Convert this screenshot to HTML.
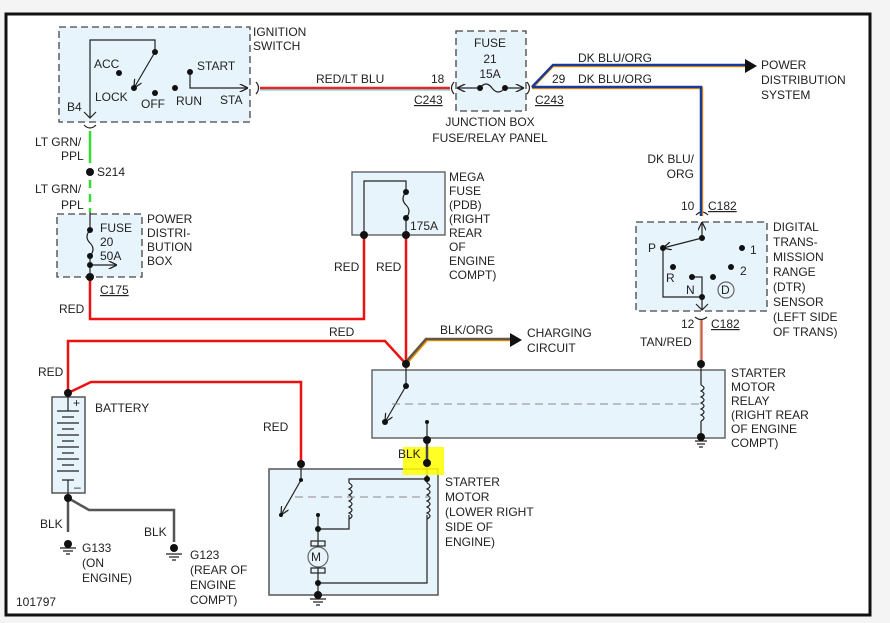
<!DOCTYPE html>
<html><head><meta charset="utf-8"><style>
html,body{margin:0;padding:0;background:#fff}
svg{display:block}
text{font-family:"Liberation Sans",sans-serif;font-size:12px;fill:#222}
</style></head><body>
<svg width="890" height="623" viewBox="0 0 890 623" xmlns="http://www.w3.org/2000/svg">
<defs>
<marker id="a" viewBox="0 0 10 10" refX="10" refY="5" markerWidth="7" markerHeight="7" orient="auto"><path d="M0,0 L10,5 L0,10" fill="none" stroke="#222" stroke-width="1.5"/></marker>
<marker id="af" viewBox="0 0 10 10" refX="9" refY="5" markerWidth="6" markerHeight="6" orient="auto"><path d="M0,0 L10,5 L0,10 z" fill="#222"/></marker>
</defs>
<rect x="0" y="0" width="890" height="623" fill="#f4f4f4"/>
<rect x="6" y="14" width="864" height="601" fill="#fff" stroke="#111" stroke-width="3"/>
<g fill="#e8f4fc" stroke="#444" stroke-width="1.3">
<rect x="59" y="27" width="191" height="95" stroke-dasharray="7,4"/>
<rect x="456" y="31" width="70" height="80" stroke-dasharray="7,4"/>
<rect x="57" y="214" width="85" height="63" stroke-dasharray="7,4"/>
<rect x="636" y="222" width="131" height="89" stroke-dasharray="7,4"/>
<rect x="352" y="172" width="93" height="63" stroke="#555"/>
<rect x="372" y="370" width="353" height="68" stroke="#666" stroke-width="1.5"/>
<rect x="52" y="397" width="33" height="96" stroke="#555" stroke-width="1.5"/>
<rect x="269" y="469" width="169" height="126" stroke="#555" stroke-width="1.5"/>
</g>
<g stroke="#222" stroke-width="1.2" fill="none">
<!-- ignition -->
<path d="M90,118 V40 H155 V52"/>
<path d="M155,52 L134,88" marker-end="url(#a)"/>
<path d="M190,72 V88 H248" marker-end="url(#a)"/>
<path d="M84,112 L90,118 L96,112"/>
<path d="M84,125 Q90,131 96,125"/>
<path d="M256,82 Q261,88 256,94"/>
<path d="M454,82 Q449,88 454,94"/>
<path d="M527,82 Q532,88 527,94"/>
<!-- jb fuse -->
<path d="M480,88 H457" marker-end="url(#a)"/><path d="M505,88 H524" marker-end="url(#a)"/>
<path d="M480,88 Q486,80 492,88 Q498,96 505,88"/>
<!-- pdb fuse -->
<path d="M90,212 V230 M90,256 V277"/>
<path d="M90,230 Q84,237 90,243 Q96,249 90,256"/>
<path d="M90,265 H117" marker-end="url(#a)"/>
<!-- mega fuse -->
<path d="M364,235 V181 H406 V192 M406,218 V235"/>
<path d="M406,192 Q400,199 406,205 Q412,211 406,218"/>
<!-- DTR -->
<path d="M702,238 V222" marker-end="url(#a)"/>
<path d="M696,215 Q702,209 708,215"/>
<path d="M702,238 L663,248" marker-end="url(#a)"/>
<path d="M663,248 V297 H702 M692,277 H702 V310"/>
<path d="M696,304 L702,310 L708,304"/>
<path d="M695,317 Q701,322 707,317"/>
<circle cx="726" cy="290" r="8" stroke="#666"/>
<!-- relay -->
<path d="M406,364 V386"/>
<path d="M406,386 L385,422" marker-end="url(#a)"/>
<path d="M427,422 V463"/>
<path d="M701,364 V385 M701,421 V437"/>
<path d="M701,385 q6,3 0,6 q6,3 0,6 q6,3 0,6 q6,3 0,6 q6,3 0,6 q6,3 0,6"/>
<path d="M695,441 H707 M697,444 H705 M699,447 H703"/>
<!-- starter motor -->
<path d="M301,464 V480"/>
<path d="M301,480 L281,515" marker-end="url(#a)"/>
<path d="M349,515 V529 H318 V515 M427,463 V483 M349,483 V479 H427 M427,515 V583 H318 V567 M318,547 V529"/>
<path d="M349,483 q6,3 0,6 q6,3 0,6 q6,3 0,6 q6,3 0,6 q6,3 0,6 q6,3 0,6"/>
<path d="M427,483 q6,3 0,6 q6,3 0,6 q6,3 0,6 q6,3 0,6 q6,3 0,6 q6,3 0,6"/>
<circle cx="318" cy="557" r="10" stroke="#666"/>
<rect x="311" y="541" width="14" height="5"/><rect x="311" y="568" width="14" height="5"/>
<path d="M318,583 V595 M310,599 H326 M313,602 H323 M316,605 H320"/>
<!-- battery -->
<path d="M68,393 V411 M68,480 V498"/>
<path d="M57,411 H79 M62,417 H74 M57,423 H79 M62,429 H74 M57,435 H79 M62,441 H74 M57,447 H79 M62,453 H74 M57,459 H79 M62,465 H74 M57,471 H79 M62,480 H74"/>
<path d="M60,548 H76 M63,551 H73 M66,554 H70 M166,554 H182 M169,557 H179 M172,560 H176"/>
</g>
<!-- dashed separators -->
<g stroke="#888" stroke-width="1" stroke-dasharray="8,5">
<path d="M392,404 H700"/><path d="M295,497 H430"/>
</g>
<!-- wires -->
<g fill="none" stroke-width="2.5">
<path d="M260,88 H450" stroke="#e22"/><path d="M260,90 H450" stroke="#4cc" stroke-width="1"/>
<path d="M90,131 V163" stroke="#3d3"/>
<path d="M90,180 V212" stroke="#3d3" stroke-dasharray="8,6"/>
<path d="M532,88 L553,66 H745" stroke="#f90"/><path d="M532,87 L553,65 H745" stroke="#1a3a9a"/>
<path d="M532,88 H702 V216" stroke="#f90"/><path d="M532,87 H701 V216" stroke="#1a3a9a"/>
<path d="M90,277 V319 H364 V235 M406,235 V364" stroke="#e11"/>
<path d="M68,393 V341 H385 L406,364" stroke="#e11"/>
<path d="M68,393 L91,382 H301 V464" stroke="#e11"/>
<path d="M701,320 V364" stroke="#b9a07a"/><path d="M702,320 V364" stroke="#e11" stroke-width="1"/>
<path d="M406,364 L427,340 H512" stroke="#e90"/><path d="M405,363 L426,339 H512" stroke="#654"/>
<path d="M68,498 V532 M68,498 L89,510 H174 V542" stroke="#555"/>
</g>
<path d="M745,59 L757,66 L745,73 z M510,333 L522,340 L510,347 z" fill="#111"/>
<rect x="403" y="447" width="41" height="28" fill="#ff0" opacity="0.85"/>
<path d="M427,440 V463" stroke="#444" stroke-width="2.5"/>
<!-- dots -->
<g fill="#111">
<circle cx="155" cy="52" r="3"/><circle cx="119" cy="73" r="3"/><circle cx="134" cy="88" r="3"/><circle cx="155" cy="93" r="3"/><circle cx="175" cy="88" r="3"/><circle cx="190" cy="72" r="3"/>
<circle cx="480" cy="88" r="3"/><circle cx="505" cy="88" r="3"/>
<circle cx="90" cy="172" r="4"/><circle cx="90" cy="230" r="3"/><circle cx="90" cy="256" r="3"/><circle cx="90" cy="265" r="3"/><circle cx="90" cy="277" r="4"/>
<circle cx="406" cy="192" r="3"/><circle cx="406" cy="218" r="3"/><circle cx="364" cy="235" r="4"/><circle cx="406" cy="235" r="4"/>
<circle cx="702" cy="238" r="3"/><circle cx="663" cy="248" r="3"/><circle cx="742" cy="248" r="3"/><circle cx="673" cy="267" r="3"/><circle cx="731" cy="267" r="3"/><circle cx="692" cy="277" r="3"/><circle cx="713" cy="277" r="3"/><circle cx="702" cy="297" r="3"/>
<circle cx="701" cy="364" r="4"/><circle cx="406" cy="364" r="4"/><circle cx="406" cy="386" r="3"/><circle cx="385" cy="422" r="3"/><circle cx="427" cy="422" r="2"/><circle cx="427" cy="440" r="4"/><circle cx="427" cy="463" r="4"/><circle cx="701" cy="437" r="4"/>
<circle cx="68" cy="393" r="4"/><circle cx="68" cy="498" r="4"/><circle cx="68" cy="544" r="4"/><circle cx="174" cy="548" r="4"/>
<circle cx="301" cy="464" r="4"/><circle cx="301" cy="480" r="2"/><circle cx="281" cy="515" r="2"/><circle cx="427" cy="479" r="3"/><circle cx="318" cy="515" r="2"/><circle cx="318" cy="529" r="3"/><circle cx="318" cy="583" r="3"/><circle cx="318" cy="595" r="4"/>
</g>
<!-- labels -->
<text x="94" y="68">ACC</text><text x="197" y="70">START</text><text x="95" y="101">LOCK</text><text x="141" y="108">OFF</text><text x="176" y="105">RUN</text><text x="220" y="104">STA</text><text x="67" y="111">B4</text>
<text x="253" y="36">IGNITION</text><text x="253" y="50">SWITCH</text>
<text x="316" y="83">RED/LT BLU</text><text x="431" y="83">18</text>
<text x="414" y="104" text-decoration="underline">C243</text><text x="535" y="104" text-decoration="underline">C243</text>
<text x="490" y="47" text-anchor="middle">FUSE</text><text x="490" y="63" text-anchor="middle">21</text><text x="490" y="78" text-anchor="middle">15A</text>
<text x="490" y="126" text-anchor="middle">JUNCTION BOX</text><text x="490" y="142" text-anchor="middle">FUSE/RELAY PANEL</text>
<text x="578" y="62">DK BLU/ORG</text><text x="552" y="83">29</text><text x="578" y="83">DK BLU/ORG</text>
<text x="761" y="69">POWER</text><text x="761" y="84">DISTRIBUTION</text><text x="761" y="99">SYSTEM</text>
<text x="694" y="163" text-anchor="end">DK BLU/</text><text x="694" y="178" text-anchor="end">ORG</text>
<text x="681" y="210">10</text><text x="708" y="210" text-decoration="underline">C182</text>
<text x="648" y="252">P</text><text x="750" y="254">1</text><text x="740" y="275">2</text><text x="666" y="282">R</text><text x="686" y="294">N</text><text x="721" y="294" font-size="11">D</text>
<text x="773" y="231">DIGITAL</text><text x="773" y="246">TRANS-</text><text x="773" y="261">MISSION</text><text x="773" y="276">RANGE</text><text x="773" y="291">(DTR)</text><text x="773" y="306">SENSOR</text><text x="773" y="321">(LEFT SIDE</text><text x="773" y="336">OF TRANS)</text>
<text x="681" y="328">12</text><text x="711" y="328" text-decoration="underline">C182</text><text x="640" y="346">TAN/RED</text>
<text x="731" y="377">STARTER</text><text x="731" y="391">MOTOR</text><text x="731" y="405">RELAY</text><text x="731" y="419">(RIGHT REAR</text><text x="731" y="433">OF ENGINE</text><text x="731" y="447">COMPT)</text>
<text x="449" y="181">MEGA</text><text x="449" y="195">FUSE</text><text x="449" y="209">(PDB)</text><text x="449" y="223">(RIGHT</text><text x="449" y="237">REAR</text><text x="449" y="251">OF</text><text x="449" y="265">ENGINE</text><text x="449" y="279">COMPT)</text>
<text x="410" y="230">175A</text>
<text x="334" y="271">RED</text><text x="376" y="271">RED</text><text x="59" y="313">RED</text><text x="329" y="336">RED</text><text x="38" y="376">RED</text><text x="263" y="431">RED</text>
<text x="440" y="334">BLK/ORG</text><text x="527" y="337">CHARGING</text><text x="527" y="352">CIRCUIT</text>
<text x="35" y="146">LT GRN/</text><text x="61" y="160">PPL</text><text x="97" y="176">S214</text><text x="35" y="193">LT GRN/</text><text x="61" y="209">PPL</text>
<text x="100" y="232">FUSE</text><text x="100" y="246">20</text><text x="100" y="260">50A</text><text x="100" y="294" text-decoration="underline">C175</text>
<text x="147" y="223">POWER</text><text x="147" y="237">DISTRI-</text><text x="147" y="251">BUTION</text><text x="147" y="265">BOX</text>
<text x="95" y="412">BATTERY</text><text x="73" y="407" font-size="10">+</text><text x="74" y="491" font-size="10">–</text>
<text x="40" y="528">BLK</text><text x="144" y="536">BLK</text><text x="398" y="458">BLK</text>
<text x="82" y="552">G133</text><text x="82" y="567">(ON</text><text x="82" y="582">ENGINE)</text>
<text x="190" y="559">G123</text><text x="190" y="574">(REAR OF</text><text x="190" y="589">ENGINE</text><text x="190" y="604">COMPT)</text>
<text x="311" y="561" font-size="13">M</text>
<text x="445" y="486">STARTER</text><text x="445" y="501">MOTOR</text><text x="445" y="516">(LOWER RIGHT</text><text x="445" y="531">SIDE OF</text><text x="445" y="546">ENGINE)</text>
<text x="16" y="606">101797</text>
</svg>
</body></html>
